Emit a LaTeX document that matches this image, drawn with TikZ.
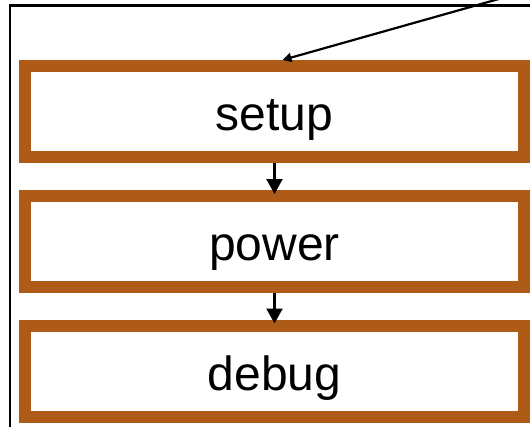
\documentclass[tikz,border=0pt]{standalone}
\usepackage{fontspec}
\setmainfont{Liberation Sans}
\usetikzlibrary{arrows.meta}
\definecolor{rust}{RGB}{174,91,24}

\begin{document}
\begin{tikzpicture}[x=1pt,y=-1pt,
  thick,main node/.style={rectangle,draw=rust,line width=12pt,
    minimum width=499pt,minimum height=91pt,inner sep=0pt,
    text height=44pt,text depth=6pt,font=\fontsize{48}{57}\selectfont}]

  \useasboundingbox (0,0) rectangle (530,426);
  \clip (0,0) rectangle (530,426);

  % frame around the stages
  \draw[line width=2.6pt] (10,5.5) rectangle (560,460);

  \node[main node] (setup) at (274.5,111.5) {setup};
  \node[main node] (power) at (274.5,241.5) {power};
  \node[main node] (debug) at (274.5,371) {debug};
  \coordinate (entry) at (520,-7);

  \draw[line width=2.2pt,-{Triangle[width=9pt,length=9pt]}]
   (entry) -- ([xshift=8pt]setup.north);

  \path[line width=2.2pt,-{Triangle[width=16pt,length=15pt]},shorten >=-4pt]
   (setup) edge (power)
   (power) edge (debug);
\end{tikzpicture}
\end{document}
